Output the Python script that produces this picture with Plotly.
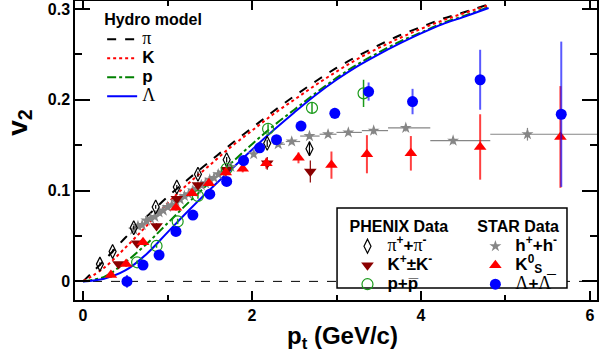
import plotly.graph_objects as go

# ---------------- data ----------------
# Hydro model curves
hydro_pt = [0.0, 0.25, 0.5, 0.75, 1.0, 1.25, 1.5, 1.75, 2.0, 2.25, 2.5, 2.75,
            3.0, 3.25, 3.5, 3.75, 4.0, 4.25, 4.5, 4.8]
hydro_pi = [0.0, 0.023, 0.048, 0.071, 0.093, 0.113, 0.132, 0.151, 0.169, 0.187, 0.204, 0.220,
            0.235, 0.248, 0.260, 0.271, 0.280, 0.289, 0.296, 0.305]
hydro_k = [0.0, 0.015, 0.037, 0.061, 0.086, 0.108, 0.128, 0.148, 0.166, 0.184, 0.200, 0.216,
           0.231, 0.245, 0.257, 0.268, 0.278, 0.287, 0.295, 0.304]
hydro_p = [0.0, 0.005, 0.021, 0.041, 0.064, 0.087, 0.109, 0.130, 0.151, 0.171, 0.189, 0.207,
           0.224, 0.239, 0.252, 0.264, 0.274, 0.284, 0.292, 0.302]
hydro_lam = [0.0, 0.003, 0.012, 0.030, 0.054, 0.078, 0.101, 0.123, 0.145, 0.166, 0.186, 0.205,
             0.222, 0.237, 0.250, 0.262, 0.273, 0.283, 0.291, 0.301]

# PHENIX data
phx_pi_pt = [0.20, 0.35, 0.60, 0.86, 1.11, 1.36, 1.70, 2.18, 2.68]
phx_pi_v2 = [0.019, 0.033, 0.059, 0.082, 0.104, 0.118, 0.134, 0.152, 0.146]
phx_pi_err = [0.002, 0.002, 0.002, 0.002, 0.002, 0.003, 0.003, 0.004, 0.008]

phx_k_pt = [0.42, 0.64, 0.87, 1.11, 1.36, 1.70, 2.18, 2.69]
phx_k_v2 = [0.019, 0.042, 0.061, 0.091, 0.106, 0.123, 0.130, 0.121]
phx_k_err = [0.002, 0.002, 0.003, 0.003, 0.003, 0.004, 0.007, 0.012]

phx_p_pt = [0.64, 0.87, 1.12, 1.36, 1.70, 2.19, 2.71, 3.32]
phx_p_v2 = [0.021, 0.039, 0.066, 0.094, 0.124, 0.168, 0.191, 0.207]
phx_p_err = [0.002, 0.002, 0.003, 0.003, 0.004, 0.005, 0.006, 0.015]

# STAR data
star_h_pt = [0.60, 0.65, 0.70, 0.75, 0.80, 0.85, 0.90, 0.95, 1.00, 1.05, 1.10, 1.15,
             1.20, 1.25, 1.30, 1.35, 1.40, 1.45, 1.50, 1.55, 1.60, 1.65, 1.70, 1.75,
             2.02, 2.31, 2.47, 2.68, 2.90, 3.14, 3.44, 3.82, 4.38, 5.26]
star_h_v2 = [0.057, 0.061, 0.062, 0.067, 0.069, 0.071, 0.076, 0.078, 0.082, 0.084, 0.088, 0.090,
             0.094, 0.096, 0.100, 0.102, 0.106, 0.108, 0.112, 0.114, 0.118, 0.120, 0.123, 0.126,
             0.140, 0.151, 0.154, 0.160, 0.162, 0.164, 0.166, 0.169, 0.155, 0.162]
star_h_err = [0.0] * 24 + [0.002, 0.002, 0.003, 0.003, 0.003, 0.003, 0.004, 0.004, 0.004, 0.007]
star_h_xplus = [0.0] * 24 + [0.0, 0.08, 0.10, 0.12, 0.10, 0.16, 0.17, 0.29, 0.44, 0.84]
star_h_xminus = [0.0] * 24 + [0.0, 0.06, 0.07, 0.11, 0.10, 0.14, 0.14, 0.21, 0.27, 0.44]

star_k0_pt = [0.33, 0.51, 0.71, 1.10, 1.29, 1.49, 1.69, 1.89, 2.17, 2.55, 2.94, 3.36, 3.88, 4.70, 5.65]
star_k0_v2 = [0.007, 0.019, 0.043, 0.081, 0.097, 0.108, 0.120, 0.124, 0.130, 0.136, 0.128, 0.140, 0.141, 0.148, 0.159]
star_k0_err = [0.003, 0.003, 0.003, 0.003, 0.003, 0.003, 0.004, 0.004, 0.006, 0.006, 0.015, 0.021, 0.019, 0.036, 0.056]

star_lam_pt = [0.52, 0.71, 0.90, 1.10, 1.30, 1.50, 1.70, 1.90, 2.09, 2.29, 2.58, 2.98, 3.38, 3.90, 4.70, 5.66]
star_lam_v2 = [0.000, 0.018, 0.029, 0.055, 0.073, 0.096, 0.110, 0.133, 0.147, 0.156, 0.171, 0.185, 0.209, 0.198, 0.222, 0.184]
star_lam_err = [0.007, 0.003, 0.003, 0.003, 0.003, 0.003, 0.003, 0.003, 0.004, 0.004, 0.005, 0.006, 0.010, 0.014, 0.033, 0.080]

x_tickvals = [0, 2, 4, 6]
y_tickvals = [0, 0.1, 0.2, 0.3]

# ---------------- figure ----------------
SERIF = "font-family:'Liberation Serif';font-weight:normal;font-size:18px"
BIG = "font-size:17px"

fig = go.Figure()

hydro = [
    (hydro_pi, "black", "dash", f"<span style=\"{SERIF}\">π</span>"),
    (hydro_k, "red", "dot", f"<span style=\"{BIG}\">K</span>"),
    (hydro_p, "green", "dashdot", f"<span style=\"{BIG}\">p</span>"),
    (hydro_lam, "blue", "solid", f"<span style=\"{SERIF}\">Λ</span>"),
]
for ys, col, dash, name in hydro:
    fig.add_trace(go.Scatter(
        x=hydro_pt, y=ys, mode="lines", name=name,
        line=dict(color=col, dash=dash, width=2, shape="spline", smoothing=1.0),
        legend="legend",
    ))

# STAR h (drawn beneath the other data)
fig.add_trace(go.Scatter(
    x=star_h_pt, y=star_h_v2, mode="markers",
    name=f"<span style=\"{BIG}\">h<sup>+</sup>+h<sup>-</sup></span>",
    marker=dict(symbol="star", size=9, color="#868686", line=dict(width=0)),
    error_y=dict(type="data", array=star_h_err, color="#868686", thickness=1.2, width=0),
    error_x=dict(type="data", array=star_h_xplus, arrayminus=star_h_xminus,
                 color="#868686", thickness=1.2, width=0),
    legend="legend3", legendrank=1,
))

# PHENIX
fig.add_trace(go.Scatter(
    x=phx_pi_pt, y=phx_pi_v2, mode="markers",
    name=f"<span style=\"{SERIF}\">π</span><span style=\"{BIG}\"><sup>+</sup>+</span><span style=\"{SERIF}\">π</span><span style=\"{BIG}\"><sup>-</sup></span>",
    marker=dict(symbol="diamond-tall-open", size=10, color="black", line=dict(width=1.2)),
    error_y=dict(type="data", array=phx_pi_err, color="black", thickness=1.2, width=0),
    legend="legend2", legendrank=1,
))
fig.add_trace(go.Scatter(
    x=phx_k_pt, y=phx_k_v2, mode="markers",
    name=f"<span style=\"{BIG}\">K<sup>+</sup>±K<sup>-</sup></span>",
    marker=dict(symbol="triangle-down", size=11, color="#8b0000", line=dict(width=0)),
    error_y=dict(type="data", array=phx_k_err, color="#8b0000", thickness=1.2, width=0),
    legend="legend2", legendrank=2,
))
fig.add_trace(go.Scatter(
    x=phx_p_pt, y=phx_p_v2, mode="markers",
    name=f"<span style=\"{BIG}\">p+p\u0305</span>",
    marker=dict(symbol="circle-open", size=11, color="#1a9a1a", line=dict(width=1.2)),
    error_y=dict(type="data", array=phx_p_err, color="#1a9a1a", thickness=1.5, width=0),
    legend="legend2", legendrank=3,
))

# STAR K0s and Lambda
fig.add_trace(go.Scatter(
    x=star_k0_pt, y=star_k0_v2, mode="markers",
    name=f"<span style=\"{BIG}\">K<sup>0</sup><sub>S</sub></span>",
    marker=dict(symbol="triangle-up", size=11, color="red", line=dict(width=0)),
    error_y=dict(type="data", array=star_k0_err, color="rgba(255,0,0,0.75)", thickness=2, width=0),
    legend="legend3", legendrank=2,
))
fig.add_trace(go.Scatter(
    x=star_lam_pt, y=star_lam_v2, mode="markers",
    name=f"<span style=\"{SERIF}\">Λ</span><span style=\"{BIG}\">+</span><span style=\"{SERIF}\">Λ\u0305</span>",
    marker=dict(symbol="circle", size=11, color="blue", line=dict(width=0)),
    error_y=dict(type="data", array=star_lam_err, color="rgba(0,0,255,0.65)", thickness=2, width=0),
    legend="legend3", legendrank=3,
))

axis_common = dict(
    showline=True, linecolor="black", linewidth=1.5, mirror="ticks",
    ticks="inside", tickcolor="black", tickwidth=1.5,
    showgrid=False, zeroline=False, automargin=False,
    ticklabeloverflow="allow",
    tickfont=dict(family="Liberation Sans", size=16, color="black", weight="bold"),
)

fig.update_xaxes(
    range=[-0.095, 6.083], tickvals=x_tickvals, ticktext=[str(v) for v in x_tickvals],
    ticklen=9, minor=dict(dtick=1, tick0=0, ticks="inside", ticklen=5, tickcolor="black", tickwidth=1.5),
    **axis_common,
)
fig.update_yaxes(
    range=[-0.0205, 0.3087], tickvals=y_tickvals, ticktext=["0", "0.1", "0.2", "0.3"],
    ticklen=15, minor=dict(dtick=0.05, tick0=0, ticks="inside", ticklen=7, tickcolor="black", tickwidth=1.5),
    **axis_common,
)

legend_font = dict(family="Liberation Sans", size=12, color="black", weight="bold")
title_font = dict(family="Liberation Sans", size=16, color="black", weight="bold")

fig.update_layout(
    width=600, height=359,
    margin=dict(l=75, r=3, t=1, b=59, autoexpand=False),
    paper_bgcolor="white", plot_bgcolor="white",
    font=dict(family="Liberation Sans", color="black"),
    showlegend=True,
    legend=dict(
        x=0.052, y=0.99, xanchor="left", yanchor="top",
        bgcolor="rgba(0,0,0,0)", borderwidth=0,
        title=dict(text="Hydro model", font=title_font),
        font=legend_font, traceorder="normal", itemwidth=30,
    ),
    legend2=dict(
        x=0.522, y=0.298, xanchor="left", yanchor="top",
        bgcolor="rgba(0,0,0,0)", borderwidth=0,
        title=dict(text="PHENIX Data", font=title_font),
        font=legend_font, traceorder="normal", itemwidth=30,
    ),
    legend3=dict(
        x=0.767, y=0.298, xanchor="left", yanchor="top",
        bgcolor="rgba(0,0,0,0)", borderwidth=0,
        title=dict(text="STAR Data", font=title_font),
        font=legend_font, traceorder="normal", itemwidth=30,
    ),
    shapes=[
        dict(type="line", xref="paper", yref="y", x0=0, x1=1, y0=0, y1=0,
             line=dict(color="black", width=1, dash="dash"), layer="below"),
        dict(type="rect", xref="paper", yref="paper", x0=0.502, x1=0.9425, y0=0.040, y1=0.308,
             fillcolor="white", line=dict(color="black", width=1.5), layer="above"),
    ],
    annotations=[
        dict(text="<b>p<sub>t</sub> (GeV/c)</b>", xref="paper", yref="paper",
             x=0.513, y=-0.125, xanchor="center", yanchor="middle", showarrow=False,
             font=dict(family="Liberation Sans", size=24, color="black")),
        dict(text="<b>v<sub>2</sub></b>", xref="paper", yref="paper",
             x=-0.108, y=0.595, xanchor="center", yanchor="middle", showarrow=False, textangle=-90,
             font=dict(family="Liberation Sans", size=28, color="black")),
    ],
)

fig.write_html(
    "out.html",
    config={"displayModeBar": False},
    post_script="document.body.style.margin='0';document.body.style.overflow='hidden';",
)
